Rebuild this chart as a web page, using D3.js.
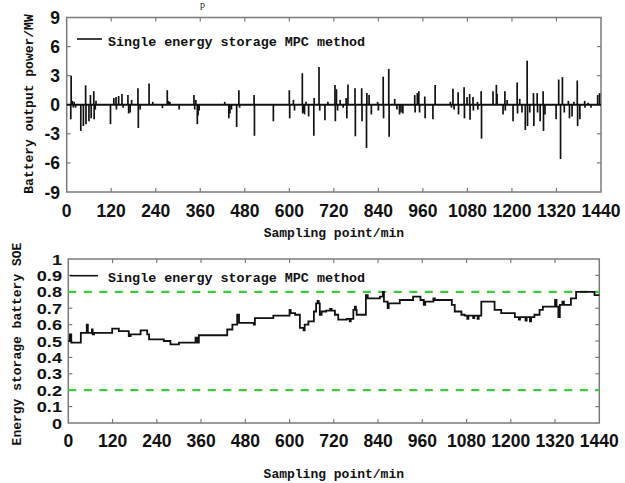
<!DOCTYPE html>
<html>
<head>
<meta charset="utf-8">
<script src="https://cdn.jsdelivr.net/npm/d3@7"></script>
<style>
  html, body { margin: 0; padding: 0; background: #fff; }
  svg { display: block; }
</style>
</head>
<body>
<svg id="chart" width="625" height="483"></svg>
<script>
// ---------------- DATA ----------------
const xTickValues = [0, 120, 240, 360, 480, 600, 720, 840, 960, 1080, 1200, 1320, 1440];
const powerTickValues = [9, 6, 3, 0, -3, -6, -9];
const soeTickValues = [0, 0.1, 0.2, 0.3, 0.4, 0.5, 0.6, 0.7, 0.8, 0.9, 1];
const soeLimits = [0.8, 0.2];
const seriesName = "Single energy storage MPC method";

// Battery output power (MW): nonzero samples (minute, value); all other minutes are 0
const powerMinutes = [11,12,15,18,20,24,38,45,51,52,60,64,66,73,74,77,79,118,127,133,134,140,149,152,165,167,171,175,192,193,198,222,232,258,271,274,278,303,343,345,348,352,354,357,426,437,440,444,458,464,466,
  505,506,557,600,601,611,614,635,636,638,641,645,652,666,667,680,682,696,704,723,724,727,730,737,745,753,755,758,777,778,795,796,808,809,815,821,838,840,853,854,868,869,884,890,897,901,906,938,939,945,
  949,951,965,966,987,993,1034,1037,1041,1044,1055,1056,1071,1072,1079,1086,1087,1095,1096,1107,1108,1117,1118,1149,1158,1160,1176,1181,1182,1187,1203,1214,1215,1221,1227,1236,1241,1242,1248,1258,1259,1268,1269,1276,1284,1285,1289,1319,1326,1331,1336,1341,1352,1355,1362,1367,1376,1377,1383,1396,1397,1405,1413,1431,1436];
const powerValues = [-1.5,3.0,0.4,-0.3,0.3,-0.3,-2.7,-2.2,2.0,-2.0,-1.7,1.0,-1.4,1.4,-1.5,-0.5,0.4,-2.0,0.7,0.8,-0.5,0.9,1.1,-0.3,1.0,-0.9,-0.8,0.5,1.7,-2.4,-0.5,2.2,0.3,-0.35,1.5,0.4,0.3,-0.5,1.0,-0.5,0.5,-2.0,-1.1,-0.6,0.3,-1.4,-0.9,-0.5,-2.3,1.5,-0.3,
  1.0,-3.2,-1.7,1.5,-1.4,0.5,-0.6,3.25,-0.9,-0.8,-1.0,0.3,-1.2,-3.2,0.7,3.9,-0.6,-1.6,0.3,2.05,-1.7,1.6,-0.6,0.5,-0.3,0.7,-1.4,2.1,1.7,-3.25,1.7,-1.7,-4.45,1.2,1.0,-1.0,0.3,-0.6,2.9,-1.4,3.7,-3.3,0.6,-0.5,-1.0,-0.8,-0.9,1.0,-0.8,1.2,
  1.4,-0.8,0.85,-1.4,-1.5,2.05,0.3,-0.3,1.65,-0.5,1.3,-1.0,1.8,-1.4,0.8,1.1,-1.55,0.8,-0.6,0.3,-0.5,1.4,-3.5,1.4,2.05,1.1,-1.0,1.4,-0.6,0.5,-1.7,2.3,-0.9,0.6,-0.8,-2.6,4.55,-2.2,-0.8,1.2,-2.2,1.2,-0.8,-1.7,1.4,-2.7,-1.0,-1.5,2.6,-5.6,2.85,-0.8,0.4,-1.4,-1.2,0.3,2.5,-2.2,-1.5,0.4,-0.3,0.2,-0.3,1.0,1.2];

// Energy storage battery SOE: step changes (minute, value)
const soeMinutes = [0,4,8,34,50,53,64,66,70,119,137,164,169,196,214,219,259,277,300,345,350,354,431,445,458,463,503,506,556,600,603,615,628,638,641,651,666,672,676,679,682,687,699,710,714,723,732,755,763,766,773,777,780,782,807,812,845,853,856,866,869,899,935,955,964,968,990,994,1040,1048,1066,1075,1082,1085,1098,1101,1110,1113,1120,1156,1174,1211,1222,1225,1240,1243,1252,1255,1264,1278,1287,1320,1324,1329,1333,1340,1344,1363,1377,1427,1440];
const soeValues = [0.50,0.54,0.49,0.55,0.60,0.55,0.57,0.54,0.55,0.575,0.56,0.53,0.54,0.565,0.54,0.51,0.50,0.48,0.49,0.52,0.49,0.535,0.57,0.60,0.66,0.61,0.60,0.64,0.655,0.69,0.67,0.66,0.58,0.565,0.60,0.62,0.68,0.73,0.745,0.73,0.66,0.68,0.685,0.695,0.685,0.66,0.63,0.635,0.62,0.635,0.69,0.71,0.69,0.66,0.78,0.76,0.77,0.80,0.74,0.70,0.73,0.75,0.77,0.75,0.72,0.74,0.76,0.75,0.72,0.68,0.66,0.655,0.635,0.655,0.64,0.655,0.635,0.655,0.74,0.69,0.67,0.645,0.63,0.645,0.625,0.645,0.62,0.645,0.66,0.69,0.71,0.75,0.71,0.645,0.72,0.74,0.72,0.76,0.80,0.78,0.78];

// ---------------- DRAW ----------------
const svg = d3.select("#chart");
const tickFont = "'Liberation Sans', Arial, sans-serif";
const monoFont = "'Liberation Mono', 'DejaVu Sans Mono', monospace";
const frameColor = "#7a7a7a";

// caption remnant at the very top
svg.append("text").attr("x", 200).attr("y", 8).attr("font-family", "'Liberation Serif', serif")
  .attr("font-size", 10).attr("fill", "#222").text("p");

function panel(opts) {
  const { x, y, xTitleY, yTitleX, yTitleY, yTitle, yTicks, yFmt, labelRight, xLabelBase, yLabelSize, yLabelScale, yLabelDy } = opts;
  const [x0, x1] = x.range();
  const [yb, yt] = y.range();
  const g = svg.append("g");
  g.append("rect").attr("x", x0).attr("y", yt).attr("width", x1 - x0).attr("height", yb - yt)
    .attr("fill", "none").attr("stroke", frameColor).attr("stroke-width", 1.5);
  const tl = 4;
  xTickValues.slice(1, -1).forEach(v => {
    g.append("line").attr("x1", x(v)).attr("x2", x(v)).attr("y1", yb).attr("y2", yb - tl)
      .attr("stroke", frameColor).attr("stroke-width", 1.2);
    g.append("line").attr("x1", x(v)).attr("x2", x(v)).attr("y1", yt).attr("y2", yt + tl)
      .attr("stroke", frameColor).attr("stroke-width", 1.2);
  });
  yTicks.forEach(v => {
    if (v === y.domain()[0] || v === y.domain()[1]) return;
    g.append("line").attr("x1", x0).attr("x2", x0 + tl).attr("y1", y(v)).attr("y2", y(v))
      .attr("stroke", frameColor).attr("stroke-width", 1.2);
    g.append("line").attr("x1", x1).attr("x2", x1 - tl).attr("y1", y(v)).attr("y2", y(v))
      .attr("stroke", frameColor).attr("stroke-width", 1.2);
  });
  g.selectAll(".xl").data(xTickValues).join("text")
    .attr("x", d => x(d)).attr("y", xLabelBase).attr("text-anchor", "middle")
    .attr("font-family", tickFont).attr("font-weight", "bold").attr("font-size", 17.5)
    .attr("fill", "#111").text(d => d);
  g.selectAll(".yl").data(yTicks).join("text")
    .attr("transform", d => `translate(${labelRight},${y(d) + yLabelDy}) scale(${yLabelScale},1)`)
    .attr("text-anchor", "end")
    .attr("font-family", tickFont).attr("font-weight", "bold").attr("font-size", yLabelSize)
    .attr("fill", "#111").text(yFmt);
  g.append("text").attr("x", (x0 + x1) / 2).attr("y", xTitleY).attr("text-anchor", "middle")
    .attr("font-family", monoFont).attr("font-weight", "bold").attr("font-size", 13)
    .attr("fill", "#111").text("Sampling point/min");
  g.append("text").attr("transform", `translate(${yTitleX},${yTitleY}) rotate(-90)`)
    .attr("text-anchor", "middle")
    .attr("font-family", monoFont).attr("font-weight", "bold").attr("font-size", 13)
    .attr("fill", "#111").text(yTitle);
  return g;
}

// ---- Top panel: battery output power ----
const xTop = d3.scaleLinear().domain([0, 1440]).range([66.7, 601]);
const yTop = d3.scaleLinear().domain([-9, 9]).range([192, 17.5]);
const gTop = panel({ x: xTop, y: yTop, xTitleY: 237, yTitleX: 33, yTitleY: 104,
  yTitle: "Battery output power/MW", yTicks: powerTickValues, yFmt: d => d,
  labelRight: 60, xLabelBase: 217, yLabelSize: 17.5, yLabelScale: 1, yLabelDy: 6.5 });

const powerData = powerMinutes.map((m, i) => ({ m, v: powerValues[i] }));
gTop.selectAll(".spike").data(powerData).join("line")
  .attr("x1", d => xTop(d.m)).attr("x2", d => xTop(d.m))
  .attr("y1", yTop(0)).attr("y2", d => yTop(d.v))
  .attr("stroke", "#111").attr("stroke-width", 1.7);
gTop.append("line").attr("x1", xTop(0)).attr("x2", xTop(1440)).attr("y1", yTop(0)).attr("y2", yTop(0))
  .attr("stroke", "#111").attr("stroke-width", 1.8);

gTop.append("line").attr("x1", 77).attr("x2", 102).attr("y1", 39).attr("y2", 39)
  .attr("stroke", "#111").attr("stroke-width", 1.6);
gTop.append("text").attr("x", 108).attr("y", 45.5).attr("font-family", monoFont)
  .attr("font-weight", "bold").attr("font-size", 13.4).attr("fill", "#111").text(seriesName);

// ---- Bottom panel: SOE ----
const xBot = d3.scaleLinear().domain([0, 1440]).range([68.3, 599.3]);
const yBot = d3.scaleLinear().domain([0, 1]).range([423, 259]);
const gBot = panel({ x: xBot, y: yBot, xTitleY: 478, yTitleX: 21, yTitleY: 344,
  yTitle: "Energy storage battery SOE", yTicks: soeTickValues,
  yFmt: d => d === 0 || d === 1 ? String(d) : d.toFixed(1),
  labelRight: 62, xLabelBase: 447, yLabelSize: 14, yLabelScale: 1.3, yLabelDy: 5.5 });

soeLimits.forEach(v => {
  gBot.append("line").attr("x1", xBot(0)).attr("x2", xBot(1440)).attr("y1", yBot(v)).attr("y2", yBot(v))
    .attr("stroke", "#3fc83f").attr("stroke-width", 2.2).attr("stroke-dasharray", "8,7.5");
});

const soeData = soeMinutes.map((m, i) => ({ m, v: soeValues[i] }));
gBot.append("path").datum(soeData)
  .attr("d", d3.line().x(d => xBot(d.m)).y(d => yBot(d.v)).curve(d3.curveStepAfter))
  .attr("fill", "none").attr("stroke", "#111").attr("stroke-width", 1.8);

gBot.append("line").attr("x1", 70).attr("x2", 98).attr("y1", 275.7).attr("y2", 275.7)
  .attr("stroke", "#111").attr("stroke-width", 1.6);
gBot.append("text").attr("x", 108).attr("y", 281.5).attr("font-family", monoFont)
  .attr("font-weight", "bold").attr("font-size", 13.4).attr("fill", "#111").text(seriesName);
</script>
</body>
</html>
